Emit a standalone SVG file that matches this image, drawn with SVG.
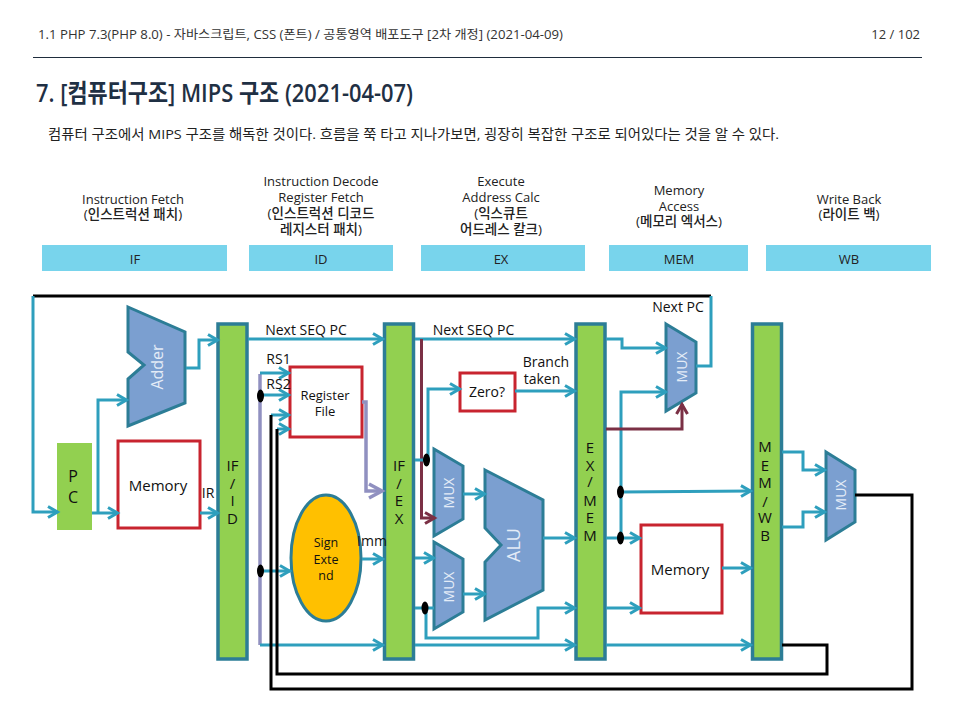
<svg xmlns="http://www.w3.org/2000/svg" width="960" height="720" viewBox="0 0 960 720">
<defs>
<marker id="aT" markerUnits="userSpaceOnUse" markerWidth="14" markerHeight="18" refX="11" refY="8" orient="auto"><path d="M1,2.500 L10.500,8 L1,13.500" fill="none" stroke="#2e9fbd" stroke-width="3"/></marker>
<marker id="aM" markerUnits="userSpaceOnUse" markerWidth="14" markerHeight="18" refX="11" refY="8" orient="auto"><path d="M1,2.500 L10.500,8 L1,13.500" fill="none" stroke="#7b3045" stroke-width="3"/></marker>
</defs>
<style>
text{font-family:"Open Sans","Noto Sans CJK KR",sans-serif;fill:#111;text-anchor:middle}
.h{font-size:12.500px;fill:#333;text-anchor:start}
.c{font-size:13px;fill:#222}
.ck{font-size:13.500px;font-weight:500;fill:#222}
.p{fill:#78d4ec}
.l{font-size:14px}
.s{font-size:15px}
.bar{fill:#92d050;stroke:#2c7d96;stroke-width:3.500}
.box{fill:#fff;stroke:#c8242f;stroke-width:3}
.blk{fill:#7b9fd0;stroke:#2c7d96;stroke-width:3}
.w{fill:#e4ecf7}
.t,.m,.u,.n{fill:none;stroke-linejoin:miter}
.t{stroke:#2e9fbd;stroke-width:3;marker-end:url(#aT)}
.t0{fill:none;stroke:#2e9fbd;stroke-width:3}
.m{stroke:#7b3045;stroke-width:3;marker-end:url(#aM)}
.u{stroke:#9090c0;stroke-width:3.500}
.n{stroke:#000;stroke-width:3}
</style>
<rect width="960" height="720" fill="#fff"/>
<g id="header">
<text class="h" x="38" y="38.500" textLength="525" lengthAdjust="spacingAndGlyphs">1.1 PHP 7.3(PHP 8.0) - 자바스크립트, CSS (폰트) / 공통영역 배포도구 [2차 개정] (2021-04-09)</text>
<text x="920" y="38.500" style="font-size:13px;fill:#333;text-anchor:end">12 / 102</text>
<path d="M33,57.500H922" stroke="#1f2d3d" stroke-width="1.200"/>
<text x="36" y="102" textLength="377" lengthAdjust="spacingAndGlyphs" style="font-size:25px;font-weight:600;fill:#1f3044;text-anchor:start">7. [컴퓨터구조] MIPS 구조 (2021-04-07)</text>
<text x="48" y="139" textLength="731" lengthAdjust="spacingAndGlyphs" style="font-size:13.500px;fill:#222;text-anchor:start">컴퓨터 구조에서 MIPS 구조를 해독한 것이다. 흐름을 쭉 타고 지나가보면, 굉장히 복잡한 구조로 되어있다는 것을 알 수 있다.</text>
</g>
<g id="stage-if">
<rect class="p" x="42" y="245" width="185" height="26"/>
<text class="c" x="135" y="263.500">IF</text>
<text class="c" x="133" y="204">Instruction Fetch</text>
<text class="ck" x="133" y="219">(인스트럭션 패치)</text>
</g>
<g id="stage-id">
<rect class="p" x="249" y="245" width="144" height="26"/>
<text class="c" x="321" y="263.500">ID</text>
<text class="c" x="321" y="186">Instruction Decode</text>
<text class="c" x="321" y="202">Register Fetch</text>
<text class="ck" x="321" y="218">(인스트럭션 디코드</text>
<text class="ck" x="321" y="234">레지스터 패치)</text>
</g>
<g id="stage-ex">
<rect class="p" x="421" y="245" width="164" height="26"/>
<text class="c" x="501" y="263.500">EX</text>
<text class="c" x="501" y="186">Execute</text>
<text class="c" x="501" y="202">Address Calc</text>
<text class="ck" x="501" y="218">(익스큐트</text>
<text class="ck" x="501" y="234">어드레스 칼크)</text>
</g>
<g id="stage-mem">
<rect class="p" x="609" y="245" width="139" height="26"/>
<text class="c" x="679" y="263.500">MEM</text>
<text class="c" x="679" y="195">Memory</text>
<text class="c" x="679" y="211">Access</text>
<text class="ck" x="679" y="226">(메모리 엑서스)</text>
</g>
<g id="stage-wb">
<rect class="p" x="766" y="245" width="165" height="26"/>
<text class="c" x="849" y="263.500">WB</text>
<text class="c" x="849" y="204">Write Back</text>
<text class="ck" x="849" y="219">(라이트 백)</text>
</g>
<g id="pc">
<rect x="57" y="443" width="35" height="87" fill="#92d050"/>
<text x="73" y="482" style="font-size:16px"><tspan x="73">P</tspan><tspan x="73" dy="21">C</tspan></text>
</g>
<g id="adder">
<polygon class="blk" points="128,307 185,332 185,403 128,426 128,379 144,365 128,352"/>
<text class="w" transform="translate(163,367) rotate(-90)" style="font-size:16px">Adder</text>
</g>
<g id="imem">
<rect class="box" x="118" y="441" width="82" height="87"/>
<text class="s" x="158" y="491">Memory</text>
</g>
<g id="if-id">
<rect class="bar" x="218" y="324" width="29" height="335"/>
<text class="s" y="471"><tspan x="232.500">IF</tspan><tspan x="232.500" dy="18">/</tspan><tspan x="232.500" dy="17">I</tspan><tspan x="232.500" dy="18">D</tspan></text>
</g>
<g id="regfile">
<rect class="box" x="290" y="367" width="72" height="70"/>
<text x="325" y="400" style="font-size:13px"><tspan x="325">Register</tspan><tspan x="325" dy="16">File</tspan></text>
</g>
<g id="sign-extend">
<ellipse cx="326" cy="558" rx="35" ry="63" fill="#ffc000" stroke="#2c7d96" stroke-width="3"/>
<text y="547" style="font-size:12.500px"><tspan x="326">Sign</tspan><tspan x="326" dy="17">Exte</tspan><tspan x="326" dy="16">nd</tspan></text>
</g>
<g id="if-ex">
<rect class="bar" x="384.500" y="324" width="29" height="335"/>
<text class="s" y="471"><tspan x="399">IF</tspan><tspan x="399" dy="18">/</tspan><tspan x="399" dy="17">E</tspan><tspan x="399" dy="18">X</tspan></text>
</g>
<g id="zero">
<rect class="box" x="460" y="373" width="55" height="38"/>
<text class="l" x="487" y="397">Zero?</text>
</g>
<g id="mux1">
<polygon class="blk" points="434,449 463,466 463,519 434,536"/>
<text class="w" transform="translate(454,493) rotate(-90)" style="font-size:14px">MUX</text>
</g>
<g id="mux2">
<polygon class="blk" points="434,542 463,559 463,612 434,629"/>
<text class="w" transform="translate(454,587) rotate(-90)" style="font-size:14px">MUX</text>
</g>
<g id="alu">
<polygon class="blk" points="485,470 543,500 543,590 485,620 485,562 501,545 485,528"/>
<text class="w" transform="translate(520,545) rotate(-90)" style="font-size:18px">ALU</text>
</g>
<g id="ex-mem">
<rect class="bar" x="576" y="324" width="29" height="335"/>
<text class="s" y="453"><tspan x="590">E</tspan><tspan x="590" dy="18">X</tspan><tspan x="590" dy="16">/</tspan><tspan x="590" dy="19">M</tspan><tspan x="590" dy="17">E</tspan><tspan x="590" dy="18">M</tspan></text>
</g>
<g id="mux3">
<polygon class="blk" points="666,324 696,342 696,393 666,411"/>
<text class="w" transform="translate(687,367) rotate(-90)" style="font-size:14px">MUX</text>
</g>
<g id="dmem">
<rect class="box" x="641" y="525" width="81" height="88"/>
<text class="s" x="680" y="575">Memory</text>
</g>
<g id="mem-wb">
<rect class="bar" x="752.500" y="324" width="29" height="335"/>
<text class="s" y="452"><tspan x="765">M</tspan><tspan x="765" dy="19">E</tspan><tspan x="765" dy="17">M</tspan><tspan x="765" dy="19">/</tspan><tspan x="765" dy="16">W</tspan><tspan x="765" dy="18">B</tspan></text>
</g>
<g id="mux4">
<polygon class="blk" points="826,452 855,470 855,522 826,540"/>
<text class="w" transform="translate(846,495) rotate(-90)" style="font-size:14px">MUX</text>
</g>
<g id="connectors">
<path class="n" d="M33,296H711"/>
<path class="t" d="M33,296V512H58"/>
<path class="t" d="M92,513H118"/>
<path class="t" d="M98,513V400H127"/>
<path class="t" d="M186,368H199V340H218"/>
<path class="t" d="M200,513H218"/>
<path class="t" d="M248,339H383"/>
<path class="u" d="M260,374V645"/>
<path class="t" d="M260,373H289"/>
<path class="t" d="M260,395H289"/>
<path class="t" d="M271,415H289"/>
<path class="t" d="M277,429H289"/>
<path class="u" d="M362,402H366V491H381"/>
<path d="M369,484L382,491L369,498" fill="none" stroke="#9090c0" stroke-width="3.500"/>
<path class="t" d="M260,571H290"/>
<path class="t" d="M362,559H383"/>
<path class="t" d="M260,645H383"/>
<path class="n" d="M271,415V689H912V495H855"/>
<path class="n" d="M277,429V674H827V645H782"/>
<path class="t" d="M415,339H575"/>
<path class="m" d="M421.500,339V518H435"/>
<path class="t" d="M415,460H428V389H460"/>
<path class="t" d="M515,391H575"/>
<path class="t" d="M463,494H485"/>
<path class="t" d="M463,594H485"/>
<path class="t" d="M415,558H434"/>
<path class="t0" d="M415,608H434"/>
<path class="t" d="M426,608V638H538V608H575"/>
<path class="t" d="M415,645H575"/>
<path class="t" d="M543,538H575"/>
<path class="t" d="M606,339H622V348H666"/>
<path class="t" d="M621,538V392H666"/>
<path class="m" d="M606,429H682V404"/>
<path class="t0" d="M696,366H711V296"/>
<path class="t" d="M621,492L751,491"/>
<path class="t" d="M606,538H640"/>
<path class="t" d="M606,608H640"/>
<path class="t" d="M606,645H751"/>
<path class="t" d="M722,568H751"/>
<path class="t" d="M782,452H803V470H825"/>
<path class="t" d="M782,527H803V512H825"/>
<g fill="#000">
<ellipse cx="260.500" cy="396" rx="3.500" ry="6.500"/>
<ellipse cx="260.500" cy="571" rx="3.500" ry="6.500"/>
<ellipse cx="426.500" cy="460" rx="3.500" ry="6.500"/>
<ellipse cx="425" cy="608" rx="3.500" ry="6.500"/>
<ellipse cx="620.500" cy="492" rx="3.500" ry="6.500"/>
<ellipse cx="620.500" cy="538" rx="3.500" ry="6.500"/>
</g>
</g>
<g id="labels">
<text class="l" x="306" y="335">Next SEQ PC</text>
<text class="l" x="473.500" y="335">Next SEQ PC</text>
<text class="l" x="278.500" y="364">RS1</text>
<text class="l" x="278.500" y="389">RS2</text>
<text class="l" x="208" y="498">IR</text>
<text class="l" x="372" y="546">Imm</text>
<text class="l" x="546" y="367">Branch</text>
<text class="l" x="542" y="384">taken</text>
<text class="l" x="678" y="312">Next PC</text>
</g>
</svg>
